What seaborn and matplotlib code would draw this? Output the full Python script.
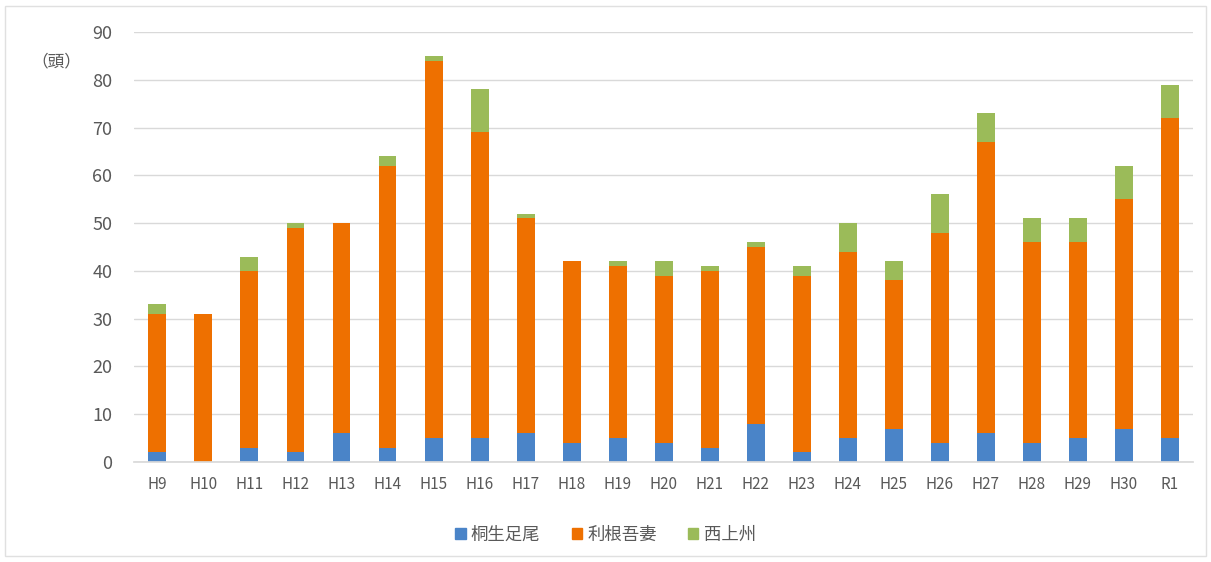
import pandas as pd
import matplotlib.pyplot as plt
import matplotlib.patches as mpatches
import seaborn as sns

years = ["H9", "H10", "H11", "H12", "H13", "H14", "H15", "H16", "H17", "H18", "H19", "H20",
         "H21", "H22", "H23", "H24", "H25", "H26", "H27", "H28", "H29", "H30", "R1"]
kiryu = [2, 0, 3, 2, 6, 3, 5, 5, 6, 4, 5, 4, 3, 8, 2, 5, 7, 4, 6, 4, 5, 7, 5]
tone = [29, 31, 37, 47, 44, 59, 79, 64, 45, 38, 36, 35, 37, 37, 37, 39, 31, 44, 61, 42, 41, 48, 67]
nishi = [2, 0, 3, 1, 0, 2, 1, 9, 1, 0, 1, 3, 1, 1, 2, 6, 4, 8, 6, 5, 5, 7, 7]
series_names = ["桐生足尾", "利根吾妻", "西上州"]
colors = ["#4A84C8", "#EE7000", "#9BBB59"]

df = pd.DataFrame({"year": years, "kiryu": kiryu, "tone": tone, "nishi": nishi})
df["c1"] = df["kiryu"]
df["c2"] = df["kiryu"] + df["tone"]
df["c3"] = df["c2"] + df["nishi"]

sns.set_theme(style="white")
plt.rcParams["font.family"] = ["Noto Sans CJK JP", "DejaVu Sans"]

fig = plt.figure(figsize=(12.11, 5.62), dpi=100)
ax = fig.add_axes([0.111, 0.178, 0.874, 0.765])

# stacked: draw totals first, then cover with lower layers
for col, c in zip(["c3", "c2", "c1"], colors[::-1]):
    sns.barplot(data=df, x="year", y=col, color=c, width=0.39, saturation=1,
                order=years, ax=ax, linewidth=0)

ax.set_ylim(0, 90)
ax.set_xlim(-0.5, len(years) - 0.5)
ax.set_yticks(range(0, 91, 10))
ax.yaxis.grid(True, color="#D9D9D9", linewidth=1)
ax.set_axisbelow(True)
for s in ["top", "right", "left"]:
    ax.spines[s].set_visible(False)
ax.spines["bottom"].set_color("#D9D9D9")
ax.set_xlabel("")
ax.set_ylabel("")
ax.tick_params(axis="both", length=0, colors="#595959")
ax.tick_params(axis="y", labelsize=13, pad=16)
ax.tick_params(axis="x", labelsize=11, pad=10)

fig.text(0.026, 0.89, "（頭）", fontsize=12, color="#595959", ha="left", va="center")

handles = [mpatches.Patch(color=c, label=n) for c, n in zip(colors, series_names)]
fig.legend(handles=handles, loc="center", bbox_to_anchor=(0.5, 0.048), ncol=3, frameon=False,
           fontsize=12.5, handlelength=0.6, handleheight=0.6, handletextpad=0.3, columnspacing=1.8,
           labelcolor="#595959")

border = mpatches.Rectangle((0.004, 0.01), 0.992, 0.98, transform=fig.transFigure,
                            fill=False, edgecolor="#E0E0E0", linewidth=1)
fig.patches.append(border)

fig.savefig("out.png", dpi=100)
